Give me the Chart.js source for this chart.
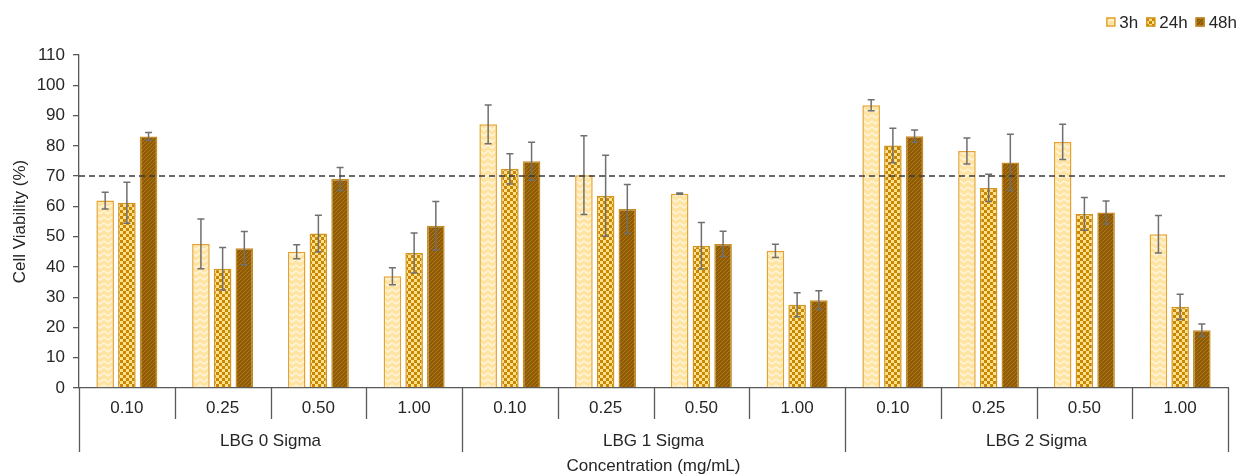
<!DOCTYPE html>
<html>
<head>
<meta charset="utf-8">
<script src="https://cdn.jsdelivr.net/npm/chart.js@4.4.0/dist/chart.umd.min.js"></script>
<style>
  html, body { margin: 0; padding: 0; background: #fff; }
  #wrap { width: 1240px; height: 476px; position: relative; }
</style>
</head>
<body>
<div id="wrap"><canvas id="viability"></canvas></div>
<script>
// concentrations (mg/mL) for each LBG sample
const concLabels = ['0.10', '0.25', '0.50', '1.00', '0.10', '0.25', '0.50', '1.00', '0.10', '0.25', '0.50', '1.00'];
const groupLabels = ['LBG 0 Sigma', 'LBG 1 Sigma', 'LBG 2 Sigma'];
const seriesNames = ['3h', '24h', '48h'];

// mean cell viability (%)
const viab3h  = [61.9, 47.6, 45.0, 36.9, 87.1, 70.3, 64.2, 45.3, 93.4, 78.3, 81.3, 50.8];
const viab24h = [61.2, 39.4, 51.0, 44.6, 72.4, 63.5, 47.0, 27.5, 80.1, 66.1, 57.5, 26.8];
const viab48h = [83.1, 46.2, 69.0, 53.6, 74.9, 59.1, 47.6, 29.0, 83.2, 74.5, 58.0, 19.1];

// standard deviations
const sd3h  = [2.8, 8.2, 2.3, 2.8, 6.4, 13.0, 0.2, 2.2, 1.8, 4.3, 5.8, 6.2];
const sd24h = [6.8, 7.0, 6.1, 6.6, 5.0, 13.4, 7.7, 4.0, 5.7, 4.5, 5.4, 4.2];
const sd48h = [1.3, 5.5, 3.8, 8.0, 6.3, 8.1, 4.2, 3.1, 2.0, 9.3, 3.8, 2.0];

const cutoff = 70; // cytotoxicity threshold

const FONT = "'Liberation Sans', Arial, sans-serif";
const textColor = '#262626';
const axisColor = '#595959';

// small tiled fills for the bars
function makePattern(kind) {
    const c = document.createElement('canvas');
    const g = c.getContext('2d');
    if (kind === 'wave') {
        c.width = 8; c.height = 6;
        g.fillStyle = '#ffe3a2';
        g.fillRect(0, 0, 8, 6);
        g.strokeStyle = '#fff4d6';
        g.lineWidth = 1.6;
        g.beginPath();
        g.moveTo(0, 1); g.lineTo(4, 4); g.lineTo(8, 1);
        g.stroke();
    } else if (kind === 'checker') {
        c.width = 6; c.height = 6;
        g.fillStyle = '#ffe08e';
        g.fillRect(0, 0, 6, 6);
        g.fillStyle = '#c98700';
        g.fillRect(0, 0, 3, 3);
        g.fillRect(3, 3, 3, 3);
    } else {
        c.width = 4; c.height = 4;
        g.fillStyle = '#8f5c05';
        g.fillRect(0, 0, 4, 4);
        g.strokeStyle = '#ad771a';
        g.lineWidth = 1;
        g.beginPath();
        g.moveTo(0, 4); g.lineTo(4, 0);
        g.moveTo(-1, 1); g.lineTo(1, -1);
        g.moveTo(3, 5); g.lineTo(5, 3);
        g.stroke();
    }
    return g.createPattern(c, 'repeat');
}

const ctx = document.getElementById('viability').getContext('2d');

const errorSets = [sd3h, sd24h, sd48h];

// error bars on top of every bar, plus the 70 % line
const errorBars = {
    id: 'errorBars',
    afterDatasetsDraw(chart) {
        const c = chart.ctx;
        const y = chart.scales.y;
        c.save();
        c.strokeStyle = '#707070';
        c.lineWidth = 1.5;
        chart.data.datasets.forEach((ds, d) => {
            const meta = chart.getDatasetMeta(d);
            meta.data.forEach((bar, i) => {
                const v = ds.data[i], e = errorSets[d][i];
                const yTop = y.getPixelForValue(v + e);
                const yBot = y.getPixelForValue(v - e);
                c.beginPath();
                c.moveTo(bar.x, yTop); c.lineTo(bar.x, yBot);
                c.moveTo(bar.x - 3.5, yTop); c.lineTo(bar.x + 3.5, yTop);
                c.moveTo(bar.x - 3.5, yBot); c.lineTo(bar.x + 3.5, yBot);
                c.stroke();
            });
        });
        const yc = y.getPixelForValue(cutoff);
        c.strokeStyle = '#3a3a3a';
        c.setLineDash([6, 4]);
        c.beginPath();
        c.moveTo(chart.chartArea.left, yc);
        c.lineTo(chart.chartArea.right, yc);
        c.stroke();
        c.restore();
    }
};

// two-level category axis: concentrations, then sample groups
const groupAxis = {
    id: 'groupAxis',
    afterDraw(chart) {
        const c = chart.ctx;
        const x = chart.scales.x;
        const base = chart.chartArea.bottom;
        const n = concLabels.length;
        const step = (x.right - x.left) / n;
        c.save();
        c.strokeStyle = axisColor;
        c.lineWidth = 1.3;
        for (let i = 0; i <= n; i++) {
            const bx = Math.round(x.left + i * step) + 0.5;
            c.beginPath();
            c.moveTo(bx, base);
            c.lineTo(bx, i % 4 === 0 ? base + 64 : base + 31);
            c.stroke();
        }
        c.fillStyle = textColor;
        c.font = '17px ' + FONT;
        c.textAlign = 'center';
        c.textBaseline = 'middle';
        concLabels.forEach((lab, i) => {
            c.fillText(lab, x.getPixelForValue(i), base + 20);
        });
        groupLabels.forEach((lab, g) => {
            const cx = (x.getPixelForValue(g * 4) + x.getPixelForValue(g * 4 + 3)) / 2;
            c.fillText(lab, cx, base + 53);
        });
        c.fillText('Concentration (mg/mL)', (x.left + x.right) / 2, base + 78);
        c.restore();
    }
};

// compact legend in the top right corner
const cornerLegend = {
    id: 'cornerLegend',
    afterDraw(chart) {
        const c = chart.ctx;
        const box = 9, gap = 4, spacing = 8, yMid = 22;
        c.save();
        c.font = '17px ' + FONT;
        c.textBaseline = 'middle';
        c.textAlign = 'left';
        const items = chart.data.datasets.map(ds => ({ ds, w: c.measureText(ds.label).width }));
        let total = items.reduce((s, it) => s + box + gap + it.w, 0) + spacing * (items.length - 1);
        let xPos = chart.width - 3 - total;
        items.forEach(({ ds, w }) => {
            c.fillStyle = ds.backgroundColor;
            c.fillRect(xPos, yMid - box / 2, box, box);
            c.strokeStyle = ds.borderColor;
            c.lineWidth = 1.5;
            c.strokeRect(xPos + 0.5, yMid - box / 2 + 0.5, box - 1, box - 1);
            c.fillStyle = textColor;
            c.fillText(ds.label, xPos + box + gap, yMid + 1);
            xPos += box + gap + w + spacing;
        });
        c.restore();
    }
};

const patterns = [makePattern('wave'), makePattern('checker'), makePattern('hatch')];
const borders = ['#e4a331', '#d4951c', '#c68b22'];
const values = [viab3h, viab24h, viab48h];

new Chart(ctx, {
    type: 'bar',
    data: {
        labels: concLabels,
        datasets: seriesNames.map((name, k) => ({
            label: name,
            data: values[k],
            backgroundColor: patterns[k],
            borderColor: borders[k],
            borderWidth: 1.5,
            categoryPercentage: 0.68,
            barPercentage: 0.81
        }))
    },
    options: {
        responsive: true,
        maintainAspectRatio: false,
        animation: false,
        devicePixelRatio: 1,
        layout: { padding: { top: 55, left: 0, right: 12, bottom: 0 } },
        plugins: {
            legend: { display: false },
            tooltip: { enabled: false }
        },
        scales: {
            x: {
                grid: { display: false },
                ticks: { display: false },
                border: { display: true, color: axisColor, width: 1.3 },
                afterFit(scale) { scale.height = 88; }
            },
            y: {
                min: 0,
                max: 110,
                ticks: {
                    stepSize: 10,
                    padding: 8,
                    color: textColor,
                    font: { family: FONT, size: 17 }
                },
                grid: { drawOnChartArea: false, tickLength: 6, color: axisColor, lineWidth: 1.3 },
                border: { color: axisColor, width: 1.3 },
                title: {
                    display: true,
                    text: 'Cell Viability (%)',
                    color: textColor,
                    font: { family: FONT, size: 17 },
                    padding: { top: 10, bottom: 0 }
                },
                afterFit(scale) { scale.width = 79; }
            }
        }
    },
    plugins: [errorBars, groupAxis, cornerLegend]
});
</script>
</body>
</html>
